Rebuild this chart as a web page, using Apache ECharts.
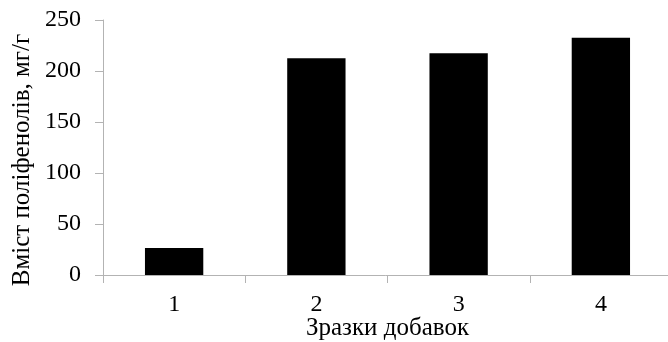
<!DOCTYPE html>
<html>
<head>
<meta charset="utf-8">
<script src="https://cdn.jsdelivr.net/npm/echarts@6/dist/echarts.min.js"></script>
<style>html,body{margin:0;padding:0;background:#fff;overflow:hidden}#c{width:668px;height:342px}</style>
</head>
<body>
<div id="c"></div>
<script>
const categories = ['1', '2', '3', '4'];
const values = [26.5, 212.5, 217.5, 232.5];
const yTicks = [0, 50, 100, 150, 200, 250];
const xTitle = 'Зразки добавок';
const yTitle = 'Вміст поліфенолів, мг/г';

const chart = echarts.init(document.getElementById('c'), null, {renderer: 'canvas', width: 668, height: 342});
const font = '"Liberation Serif", "Times New Roman", serif';
chart.setOption({
  animation: false,
  backgroundColor: '#fff',
  grid: {left: 103, top: 20, width: 569, height: 255, containLabel: false, outerBoundsMode: 'none'},
  xAxis: {
    type: 'category',
    data: categories,
    name: xTitle,
    nameLocation: 'middle',
    nameGap: 41,
    nameMoveOverlap: false,
    nameTextStyle: {fontFamily: font, fontSize: 25, color: '#000'},
    axisLine: {lineStyle: {color: '#b3b3b3', width: 1}},
    axisTick: {show: true, alignWithLabel: false, length: 8, lineStyle: {color: '#b3b3b3'}},
    axisLabel: {fontFamily: font, fontSize: 24, color: '#000', margin: 18}
  },
  yAxis: {
    type: 'value',
    min: yTicks[0],
    max: yTicks[yTicks.length - 1],
    interval: yTicks[1] - yTicks[0],
    axisLine: {show: true, lineStyle: {color: '#b3b3b3', width: 1}},
    axisTick: {show: true, length: 8, lineStyle: {color: '#b3b3b3'}},
    splitLine: {show: false},
    axisLabel: {fontFamily: font, fontSize: 24, color: '#000', margin: 22}
  },
  graphic: [{
    type: 'text',
    x: 22, y: 160,
    rotation: Math.PI / 2,
    style: {text: yTitle, fontFamily: font, fontSize: 25, fill: '#000', textAlign: 'center', textVerticalAlign: 'middle'}
  }],
  series: [{
    type: 'bar',
    data: values,
    barCategoryGap: '59%',
    itemStyle: {color: '#000'}
  }]
});
</script>
</body>
</html>
